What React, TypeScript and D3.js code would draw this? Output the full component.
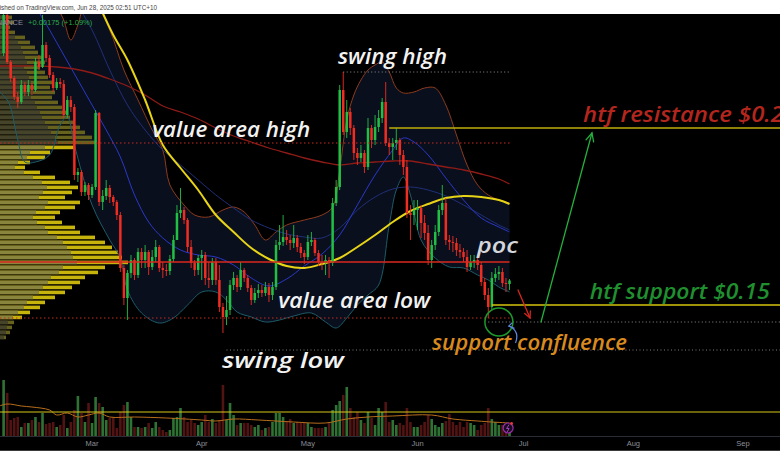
import React from "react";
import * as d3 from "d3";

const W = 780;
const H = 470;

// daily candles, first one on 4 Feb 2025; open of each day is the previous close
const firstDay = new Date(Date.UTC(2025, 1, 4));
const firstOpen = 0.276;
const closes = [
  0.295, 0.2715, 0.2635, 0.254, 0.2515, 0.26, 0.2565, 0.26, 0.2575, 0.2715,
  0.269, 0.28, 0.2735, 0.265, 0.2585, 0.2615, 0.2605, 0.245, 0.2525, 0.249,
  0.215, 0.2165, 0.2065, 0.21, 0.205, 0.209, 0.246, 0.2015, 0.2045, 0.2085,
  0.204, 0.2015, 0.195, 0.1685, 0.1535, 0.166, 0.1725, 0.165, 0.1765, 0.1725,
  0.1765, 0.169, 0.174, 0.179, 0.1685, 0.1675, 0.167, 0.173, 0.1825, 0.196,
  0.1975, 0.1925, 0.179, 0.171, 0.1675, 0.1735, 0.175, 0.1635, 0.1625, 0.1715,
  0.1625, 0.149, 0.144, 0.1475, 0.16, 0.1635, 0.159, 0.1675, 0.1635, 0.1585,
  0.1525, 0.156, 0.1575, 0.156, 0.159, 0.155, 0.159, 0.18, 0.1815, 0.184,
  0.1825, 0.181, 0.1835, 0.179, 0.176, 0.174, 0.1815, 0.1825, 0.176, 0.1715,
  0.171, 0.1725, 0.171, 0.201, 0.209, 0.2575, 0.2365, 0.2465, 0.2385, 0.226,
  0.2235, 0.226, 0.219, 0.2385, 0.2325, 0.239, 0.2435, 0.2515, 0.231, 0.229,
  0.231, 0.2325, 0.225, 0.219, 0.196, 0.195, 0.1975, 0.1985, 0.191, 0.186,
  0.1725, 0.18, 0.1865, 0.1975, 0.201, 0.1825, 0.1815, 0.181, 0.1775, 0.1765,
  0.174, 0.169, 0.1715, 0.1725, 0.17, 0.1615, 0.155, 0.149, 0.1635, 0.1655,
  0.1665, 0.161, 0.1605, 0.16225,
];
const highs = [
  0.296, 0.2965, 0.2725, 0.2645, 0.2565, 0.2625, 0.2615, 0.2625, 0.261, 0.2735,
  0.275, 0.295, 0.2815, 0.275, 0.2665, 0.2635, 0.2635, 0.2625, 0.2545, 0.2545,
  0.2505, 0.2185, 0.2175, 0.2115, 0.211, 0.2105, 0.2475, 0.2465, 0.2075, 0.2125,
  0.21, 0.205, 0.2025, 0.1965, 0.17, 0.1675, 0.175, 0.1735, 0.1785, 0.1785,
  0.18, 0.1775, 0.1775, 0.1825, 0.18, 0.1715, 0.1705, 0.175, 0.185, 0.2,
  0.2085, 0.199, 0.1935, 0.1825, 0.1725, 0.175, 0.1775, 0.1765, 0.1715, 0.1735,
  0.1735, 0.17, 0.151, 0.1545, 0.1625, 0.1665, 0.165, 0.1715, 0.1685, 0.165,
  0.16, 0.1585, 0.1605, 0.16, 0.1615, 0.161, 0.1615, 0.1825, 0.19, 0.195,
  0.1875, 0.185, 0.19, 0.185, 0.181, 0.1775, 0.185, 0.1865, 0.1835, 0.1775,
  0.175, 0.175, 0.174, 0.2035, 0.2125, 0.26, 0.2665, 0.2525, 0.2485, 0.24,
  0.2285, 0.23, 0.2275, 0.2435, 0.24, 0.245, 0.2475, 0.2535, 0.2615, 0.2335,
  0.2335, 0.2385, 0.2335, 0.2275, 0.2225, 0.2, 0.2025, 0.2025, 0.2, 0.195,
  0.19, 0.1825, 0.19, 0.2, 0.21, 0.2035, 0.185, 0.1845, 0.1835, 0.1805,
  0.1785, 0.1775, 0.175, 0.175, 0.174, 0.1715, 0.1635, 0.1585, 0.1665, 0.1685,
  0.1695, 0.1685, 0.1635, 0.163,
];
const lows = [
  0.2745, 0.2705, 0.2615, 0.2525, 0.2485, 0.2505, 0.2545, 0.2545, 0.255, 0.2565,
  0.2675, 0.2685, 0.2715, 0.2635, 0.2565, 0.2575, 0.2585, 0.2435, 0.2435, 0.2465,
  0.2125, 0.2115, 0.2045, 0.2045, 0.2025, 0.2035, 0.2075, 0.1995, 0.1975, 0.2025,
  0.201, 0.1995, 0.1925, 0.1665, 0.15, 0.1425, 0.1635, 0.1625, 0.1635, 0.1685,
  0.1685, 0.165, 0.1675, 0.1715, 0.1665, 0.1635, 0.1645, 0.165, 0.1715, 0.1825,
  0.1935, 0.1905, 0.1765, 0.1685, 0.1645, 0.165, 0.1625, 0.16, 0.1585, 0.16,
  0.16, 0.1465, 0.136, 0.14, 0.145, 0.1575, 0.1565, 0.1575, 0.1615, 0.1565,
  0.15, 0.151, 0.1535, 0.154, 0.1545, 0.1515, 0.1525, 0.1575, 0.1775, 0.1795,
  0.18, 0.1775, 0.1785, 0.1765, 0.1735, 0.1705, 0.1725, 0.1795, 0.1745, 0.1695,
  0.1675, 0.165, 0.1635, 0.1695, 0.1995, 0.2075, 0.235, 0.2335, 0.235, 0.2225,
  0.22, 0.2215, 0.216, 0.2175, 0.2285, 0.23, 0.2365, 0.241, 0.2295, 0.225,
  0.2225, 0.2275, 0.22, 0.215, 0.1935, 0.1825, 0.19, 0.1875, 0.1835, 0.1825,
  0.17, 0.1685, 0.1775, 0.1845, 0.195, 0.18, 0.1775, 0.1765, 0.1745, 0.1735,
  0.1715, 0.1665, 0.1675, 0.1685, 0.1675, 0.1595, 0.1525, 0.1435, 0.1475, 0.1615,
  0.1625, 0.159, 0.1565, 0.1575,
];
// volume, millions
const volumes = [
  56, 43, 16, 18, 19, 9, 13, 13, 16, 19,
  14, 23, 12, 13, 14, 9, 11, 21, 8, 14,
  26, 40, 23, 14, 33, 13, 39, 33, 29, 16,
  18, 19, 8, 24, 31, 34, 19, 9, 9, 8,
  9, 13, 8, 14, 9, 6, 4, 6, 18, 19,
  28, 19, 14, 16, 13, 11, 14, 21, 14, 17,
  13, 16, 51, 16, 33, 21, 11, 13, 13, 13,
  11, 9, 11, 6, 8, 9, 14, 23, 23, 19,
  14, 17, 13, 14, 13, 13, 13, 9, 8, 8,
  8, 9, 13, 26, 31, 35, 41, 49, 28, 19,
  24, 16, 13, 24, 18, 11, 28, 24, 34, 14,
  16, 11, 13, 11, 28, 14, 9, 9, 11, 14,
  21, 17, 11, 9, 13, 15, 22, 14, 11, 14,
  9, 14, 13, 11, 6, 11, 13, 28, 17, 14,
  11, 11, 10, 9,
];

// indicator readings: [candle index, value]
const maYellow: [number, number][] = [
  [27, 0.3], [31, 0.285], [35, 0.2725], [40, 0.2525], [45, 0.23], [50, 0.2185],
  [55, 0.2075], [60, 0.195], [65, 0.1865], [70, 0.1785], [75, 0.173], [80, 0.1695],
  [85, 0.1685], [90, 0.1705], [95, 0.1735], [100, 0.179], [105, 0.185], [110, 0.1915],
  [115, 0.197], [120, 0.2005], [125, 0.2035], [130, 0.2045], [135, 0.204], [140, 0.2025],
  [143, 0.2005],
];
const maRed: [number, number][] = [
  [-2, 0.2695], [5, 0.2695], [10, 0.2695], [15, 0.269], [20, 0.268], [25, 0.266],
  [30, 0.263], [35, 0.2595], [40, 0.255], [45, 0.2495], [50, 0.2465], [55, 0.243],
  [60, 0.2385], [65, 0.2345], [70, 0.2315], [75, 0.2285], [80, 0.226], [85, 0.2235],
  [90, 0.2215], [95, 0.22], [100, 0.221], [105, 0.2215], [110, 0.222], [115, 0.222],
  [120, 0.2205], [125, 0.219], [130, 0.2175], [135, 0.2155], [140, 0.213], [143, 0.2105],
];
const maBlue: [number, number][] = [
  [8, 0.305], [10, 0.2965], [13, 0.2875], [17, 0.275], [21, 0.2625], [25, 0.25],
  [29, 0.2375], [33, 0.224], [37, 0.205], [41, 0.1915], [45, 0.1835], [50, 0.1775],
  [55, 0.175], [60, 0.174], [65, 0.17], [70, 0.1635], [75, 0.1595], [80, 0.163],
  [85, 0.1695], [90, 0.1755], [95, 0.185], [100, 0.2], [105, 0.215], [110, 0.2275],
  [113, 0.2335], [116, 0.2315], [120, 0.225], [125, 0.2135], [130, 0.2025], [135, 0.1935],
  [140, 0.189], [143, 0.1865],
];
const maNavy: [number, number][] = [
  [20, 0.3025], [25, 0.2875], [30, 0.2675], [35, 0.25], [40, 0.2375], [45, 0.2275],
  [50, 0.22], [55, 0.2125], [60, 0.205], [65, 0.1985], [70, 0.1925], [75, 0.1885],
  [80, 0.1855], [85, 0.184], [90, 0.1835], [95, 0.1885], [100, 0.1975], [105, 0.204],
  [110, 0.208], [115, 0.209], [120, 0.2075], [125, 0.2045], [130, 0.2], [135, 0.195],
  [140, 0.19], [143, 0.1875],
];
const bbUpper: [number, number][] = [
  [-2, 0.325], [8, 0.3175], [13, 0.31], [15, 0.3], [17, 0.2925], [19, 0.2825],
  [21, 0.29], [23, 0.3], [26, 0.3], [30, 0.2875], [34, 0.2675], [38, 0.2525],
  [42, 0.2375], [45, 0.2275], [47, 0.21], [51, 0.2], [54, 0.195], [58, 0.194],
  [62, 0.1975], [65, 0.199], [68, 0.1965], [71, 0.19], [74, 0.1825], [77, 0.1865],
  [80, 0.19], [85, 0.1925], [90, 0.195], [93, 0.199], [95, 0.2175], [97, 0.2425],
  [99, 0.255], [101, 0.2625], [103, 0.2675], [105, 0.27], [107, 0.2715], [109, 0.2665],
  [111, 0.2585], [113, 0.256], [116, 0.2565], [119, 0.2585], [122, 0.2585], [125, 0.25],
  [128, 0.235], [131, 0.22], [134, 0.21], [137, 0.205], [140, 0.2025], [143, 0.201],
];
const bbLower: [number, number][] = [
  [-2, 0.258], [1, 0.2525], [2, 0.2485], [4, 0.2325], [6, 0.2215], [9, 0.2215],
  [13, 0.225], [16, 0.24], [18, 0.244], [20, 0.23], [25, 0.2], [30, 0.1825],
  [33, 0.1735], [35, 0.1575], [39, 0.146], [44, 0.141], [48, 0.1435], [52, 0.15],
  [56, 0.1565], [60, 0.1565], [63, 0.1525], [66, 0.1465], [70, 0.144], [74, 0.1415],
  [78, 0.1425], [82, 0.1445], [87, 0.146], [91, 0.1415], [94, 0.1385], [97, 0.1435],
  [100, 0.15], [103, 0.155], [106, 0.16], [109, 0.19], [111, 0.2075], [113, 0.214],
  [115, 0.205], [118, 0.1825], [122, 0.1735], [126, 0.169], [130, 0.1685], [134, 0.165],
  [137, 0.1625], [140, 0.159], [143, 0.1565],
];
const volMa: [number, number][] = [
  [-2, 29], [1, 32], [5, 30], [8, 29], [13, 26], [15, 21], [18, 23], [21, 19],
  [24, 21], [27, 23], [30, 19], [37, 19], [46, 18], [56, 16], [60, 15], [65, 17],
  [72, 16], [82, 14], [91, 13], [97, 17], [103, 19], [110, 20], [121, 21], [127, 17],
  [134, 15], [138, 14], [143, 13],
];

// visible-range volume profile, rows of 0.0025 from 0.295 down
const profileTop = 0.295;
const profileStep = 0.0025;
const profileTotal = [
  12, 14, 10, 15, 25, 30, 35, 38, 42, 45, 40, 45, 48, 52, 50, 55, 52, 58, 62, 66,
  70, 75, 80, 85, 92, 97, 75, 50, 45, 30, 25, 40, 55, 70, 78, 72, 65, 80, 75, 60,
  55, 62, 75, 80, 95, 105, 112, 118, 122, 128, 105, 98, 85, 80, 72, 65, 55, 45, 40, 30,
  22, 14, 12, 10, 6,
];
const profileDown = [
  7, 8, 6, 9, 15, 18, 21, 23, 25, 27, 24, 27, 29, 31, 30, 33, 31, 35, 37, 40,
  42, 45, 48, 51, 55, 58, 45, 30, 27, 18, 15, 24, 33, 42, 47, 43, 39, 48, 45, 36,
  33, 37, 45, 48, 57, 63, 67, 71, 73, 77, 63, 59, 51, 48, 43, 39, 33, 27, 24, 18,
  13, 8, 7, 6, 4,
];
const vaHigh = 0.231;
const vaLow = 0.1435;
const pocPrice = 0.1715;

const swingHigh = 0.2665;
const swingLow = 0.1275;
const htfResistance = 0.2385;
const htfSupport = 0.15;
const confluence = 0.1415;
const volumeLevel = 24;

const months = ["Feb", "Mar", "Apr", "May", "Jun", "Jul", "Aug", "Sep"];

// chart notes: [text, candle index, price, width, colour]
const notes: [string, number, number, number, string][] = [
  ["swing high", 94.5, 0.2705, 109, "#f2f2f2"],
  ["value area high", 42, 0.234, 158, "#f2f2f2"],
  ["poc", 133.8, 0.176, 41, "#d4d6dc"],
  ["value area low", 77.6, 0.1485, 152, "#f2f2f2"],
  ["swing low", 61.7, 0.1185, 122, "#f2f2f2"],
  ["support confluence", 121.1, 0.1275, 195, "#d98a1e"],
  ["htf support $0.15", 165.7, 0.153, 180, "#1f8f2f"],
  ["htf resistance $0.24", 163.8, 0.2415, 214, "#b3261e"],
];

const UP = "#22bf45";
const DOWN = "#ef2d22";

const x = d3
  .scaleUtc()
  .domain([new Date(Date.UTC(2025, 1, 1)), new Date(Date.UTC(2025, 8, 1))])
  .range([-7, 743]);
const y = d3.scaleLinear().domain([htfSupport, htfResistance]).range([305, 128]);
const vy = d3.scaleLinear().domain([0, 56]).range([436, 380]);
const px = d3.scaleLinear().domain([0, 128]).range([0, 128]);

const dayX = (k: number) => x(new Date(firstDay.getTime() + k * 864e5));

const line = d3
  .line<[number, number]>()
  .x((d) => dayX(d[0]))
  .y((d) => y(d[1]))
  .curve(d3.curveCatmullRom.alpha(0.5));

const volLine = d3
  .line<[number, number]>()
  .x((d) => dayX(d[0]))
  .y((d) => vy(d[1]))
  .curve(d3.curveCatmullRom.alpha(0.5));

const candles = closes.map((c, i) => {
  const o = i === 0 ? firstOpen : closes[i - 1];
  return { i, o, c, h: Math.max(highs[i], o, c), l: Math.min(lows[i], o, c), v: volumes[i] };
});

const bandFill =
  (line(bbUpper) || "") + "L" + (line([...bbLower].reverse()) || "").slice(1) + "Z";

function Arrow({ x1, y1, x2, y2, color, size = 8 }: any) {
  const a = Math.atan2(y2 - y1, x2 - x1);
  const h1 = [x2 - size * Math.cos(a - 0.45), y2 - size * Math.sin(a - 0.45)];
  const h2 = [x2 - size * Math.cos(a + 0.45), y2 - size * Math.sin(a + 0.45)];
  return (
    <g stroke={color} strokeWidth={1.3} fill="none" strokeLinecap="round">
      <line x1={x1} y1={y1} x2={x2} y2={y2} />
      <polyline points={`${h1[0]},${h1[1]} ${x2},${y2} ${h2[0]},${h2[1]}`} />
    </g>
  );
}

export default function App() {
  const lastX = dayX(closes.length - 1);
  return (
    <div style={{ position: "fixed", left: 0, top: 0 }}>
      <svg width={W} height={H} style={{ display: "block" }}>
        <defs>
          <clipPath id="pane">
            <rect x={0} y={14} width={W} height={422} />
          </clipPath>
        </defs>
        <rect width={W} height={H} fill="#ffffff" />
        <rect y={14} width={W} height={437} fill="#000000" />

        {/* header */}
        <text
          x={-13}
          y={10}
          fontSize={7}
          fill="#444"
          fontFamily="'Liberation Sans', Arial, sans-serif"
          textLength={170}
          lengthAdjust="spacingAndGlyphs"
        >
          Published on TradingView.com, Jun 28, 2025 02:51 UTC+10
        </text>

        <g clipPath="url(#pane)">
          {/* bollinger background */}
          <path d={bandFill} fill="#0a0f1d" />

          {/* volume profile */}
          {profileTotal.map((v, i) => {
            const hi = profileTop - i * profileStep;
            const lo = hi - profileStep;
            const mid = (hi + lo) / 2;
            const inVa = mid <= vaHigh && mid >= vaLow;
            const yy = y(hi) + 0.6;
            const hh = y(lo) - y(hi) - 1.4;
            return (
              <g key={i}>
                <rect x={0} y={yy} width={px(v)} height={hh} fill={inVa ? "#c6b30c" : "#66611d"} />
                <rect x={0} y={yy} width={px(profileDown[i])} height={hh} fill={inVa ? "#8a853c" : "#45432a"} />
              </g>
            );
          })}

          {/* indicator lines */}
          <path d={line(bbUpper) || ""} fill="none" stroke="#8c3b1d" strokeWidth={1} />
          <path d={line(bbLower) || ""} fill="none" stroke="#1d5c69" strokeWidth={1} />
          <path d={line(maNavy) || ""} fill="none" stroke="#1f2f78" strokeWidth={1} />
          <path d={line(maBlue) || ""} fill="none" stroke="#2a38c8" strokeWidth={1} />
          <path d={line(maRed) || ""} fill="none" stroke="#8e1b17" strokeWidth={1.3} />
          <path d={line(maYellow) || ""} fill="none" stroke="#e8d417" strokeWidth={2} />

          {/* volume */}
          {candles.map((d) => (
            <rect
              key={"v" + d.i}
              x={dayX(d.i) - 1.3}
              width={2.6}
              y={vy(d.v)}
              height={vy(0) - vy(d.v)}
              fill={d.c >= d.o ? "#2f7334" : "#521313"}
            />
          ))}
          <path d={volLine(volMa) || ""} fill="none" stroke="#b86e1c" strokeWidth={1} />
          <line x1={0} x2={W} y1={vy(volumeLevel)} y2={vy(volumeLevel)} stroke="#d8c81a" strokeWidth={1.2} />

          {/* candles */}
          {candles.map((d) => {
            const cx = dayX(d.i);
            const col = d.c >= d.o ? UP : DOWN;
            const top = y(Math.max(d.o, d.c));
            const bot = y(Math.min(d.o, d.c));
            return (
              <g key={d.i}>
                <line x1={cx} x2={cx} y1={y(d.h)} y2={y(d.l)} stroke={col} strokeWidth={0.9} />
                <rect x={cx - 1.25} width={2.5} y={top} height={Math.max(1, bot - top)} fill={col} />
              </g>
            );
          })}

          {/* levels */}
          <line x1={0} x2={lastX} y1={y(vaHigh)} y2={y(vaHigh)} stroke="#c62a22" strokeWidth={1} strokeDasharray="1.5 2.5" />
          <line x1={0} x2={lastX} y1={y(vaLow)} y2={y(vaLow)} stroke="#c62a22" strokeWidth={1} strokeDasharray="1.5 2.5" />
          <line x1={0} x2={lastX} y1={y(pocPrice)} y2={y(pocPrice)} stroke="#d8281f" strokeWidth={1.3} />
          <line x1={dayX(96)} x2={lastX} y1={y(swingHigh)} y2={y(swingHigh)} stroke="#8d8d8d" strokeWidth={1} strokeDasharray="1 2.5" />
          <line x1={dayX(63)} x2={W} y1={y(swingLow)} y2={y(swingLow)} stroke="#7d7d7d" strokeWidth={1} strokeDasharray="1 2.5" />
          <line x1={dayX(137)} x2={W} y1={y(confluence)} y2={y(confluence)} stroke="#8d8d8d" strokeWidth={1} strokeDasharray="1 2.5" />
          <line x1={dayX(109)} x2={W} y1={y(htfResistance)} y2={y(htfResistance)} stroke="#bfae0a" strokeWidth={1.3} />
          <line x1={dayX(138)} x2={W} y1={y(htfSupport)} y2={y(htfSupport)} stroke="#d6c40e" strokeWidth={1.6} />
        </g>

        {/* symbol line */}
        <text x={23} y={25} textAnchor="end" fontSize={7.5} fill="#8a8e99" fontFamily="'Liberation Sans', Arial, sans-serif">
          BINANCE
        </text>
        <text x={28} y={25} fontSize={7.5} fill="#2aa84a" fontFamily="'Liberation Sans', Arial, sans-serif">
          +0.00175 (+1.09%)
        </text>

        {/* annotations */}
        <g fontFamily="'Open Sans', 'DejaVu Sans', sans-serif" fontStyle="italic" fontWeight={600} fontSize={22}>
          {notes.map(([t, k, p, w, c]) => (
            <text key={t} x={dayX(k)} y={y(p)} fill={c} textLength={w} lengthAdjust="spacingAndGlyphs">
              {t}
            </text>
          ))}
        </g>

        <Arrow x1={dayX(151.9)} y1={y(0.1415)} x2={dayX(166.3)} y2={y(0.236)} color="#23b03c" size={9} />
        <Arrow x1={dayX(145.4)} y1={y(0.1575)} x2={dayX(148.8)} y2={y(0.1435)} color="#d9261e" size={7} />
        <circle cx={dayX(140)} cy={y(0.1415)} r={14} fill="none" stroke="#1d9a2c" strokeWidth={1.5} />
        <path
          d={`M${dayX(144.7)},${y(0.131)} Q${dayX(146)},${y(0.137)} ${dayX(142.8)},${y(0.1395)}`}
          fill="none"
          stroke="#5f86e0"
          strokeWidth={1.2}
        />
        <polyline
          points={`${dayX(143.8)},${y(0.1412)} ${dayX(142.8)},${y(0.1395)} ${dayX(144.4)},${y(0.1383)}`}
          fill="none"
          stroke="#5f86e0"
          strokeWidth={1.2}
        />

        {/* event marker */}
        <circle cx={dayX(142.6)} cy={428} r={5} fill="#1a0a22" stroke="#9b2fb0" strokeWidth={1.2} />
        <path d={`M${dayX(142.6) + 1},${424.5} l-2.5,4 h2.5 l-2,3.5`} fill="none" stroke="#b04ac8" strokeWidth={0.9} />
        <circle cx={dayX(142.6) + 3.5} cy={423.5} r={1.4} fill="#e53935" />

        {/* time axis */}
        <line x1={0} x2={W} y1={436.5} y2={436.5} stroke="#2a2d35" strokeWidth={1} />
        {months.map((m, i) => (
          <text
            key={m}
            x={x(new Date(Date.UTC(2025, 1 + i, 1)))}
            y={446}
            textAnchor="middle"
            fontSize={7.5}
            fill="#8b8f98"
            fontFamily="'Liberation Sans', Arial, sans-serif"
          >
            {m}
          </text>
        ))}
        <line x1={0} x2={W} y1={450.5} y2={450.5} stroke="#3a3a3a" strokeWidth={1} />
      </svg>
    </div>
  );
}
